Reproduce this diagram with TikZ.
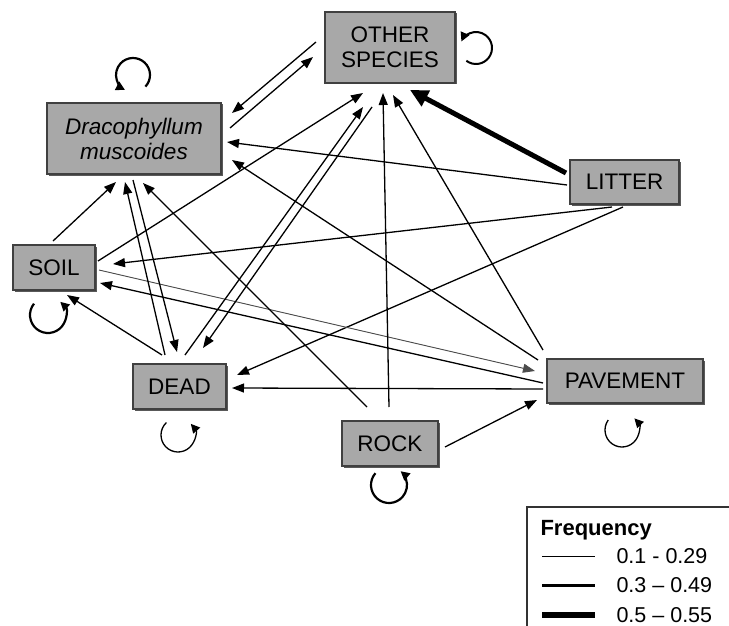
\documentclass[tikz,border=0pt]{standalone}
\usepackage{fontspec}
\setmainfont{Liberation Sans}
\usetikzlibrary{arrows.meta,calc,shadows}
\definecolor{boxfill}{RGB}{168,168,168}
\tikzset{
  state/.style={draw=black!75, line width=1.2pt, fill=boxfill, align=center, inner sep=0pt,
    font=\fontsize{22.5}{25}\selectfont,
    drop shadow={shadow xshift=1.5pt, shadow yshift=-1.5pt, fill=black!65, opacity=1}},
  link/.style={line width=1.3pt, -{Triangle[length=12pt,width=9pt]}},
  weak/.style={link, line width=0.9pt, draw=black!70, fill=black!70},
  strong/.style={line width=5pt, -{Triangle[length=18pt,width=17pt]}},
  selfloop/.style={line width=2.2pt, -{Triangle[length=9pt,width=9pt]}},
  thinloop/.style={selfloop, line width=1.3pt}
}
\begin{document}
\begin{tikzpicture}[x=1pt, y=-1pt]
\useasboundingbox (0,0) rectangle (729,626);
% states
\node[state, minimum width=130pt, minimum height=71pt] (other) at (390,47.5) {OTHER\\SPECIES};
\node[state, minimum width=174pt, minimum height=71pt, font=\fontsize{22.5}{25}\selectfont\itshape] (drac) at (134,138.5) {Dracophyllum\\muscoides};
\node[state, minimum width=109pt, minimum height=44pt] (litter) at (624.5,182) {LITTER};
\node[state, minimum width=82pt, minimum height=45pt] (soil) at (54,267.5) {SOIL};
\node[state, minimum width=93pt, minimum height=45pt] (dead) at (179.5,386.5) {DEAD};
\node[state, minimum width=156pt, minimum height=44pt] (pave) at (625,381) {PAVEMENT};
\node[state, minimum width=96pt, minimum height=45pt] (rock) at (390,443.5) {ROCK};
% transitions
\draw[link] ($(other.center)+(-74,-5.5)$) -- ($(drac.center)+(98,-25.5)$);
\draw[link] ($(drac.center)+(96,-10.5)$) -- ($(other.center)+(-77,9.5)$);
\draw[link] ($(litter.center)+(-57.5,3)$) -- ($(drac.center)+(93,3.5)$);
\draw[strong] ($(litter.center)+(-58.5,-9)$) -- ($(other.center)+(20,42.5)$);
\draw[link] ($(litter.center)+(-12.5,25)$) -- ($(soil.center)+(59,-3.5)$);
\draw[link] ($(litter.center)+(-1.5,25)$) -- ($(dead.center)+(57.5,-11.5)$);
\draw[link] ($(soil.center)+(-1,-26.5)$) -- ($(drac.center)+(-18,43.5)$);
\draw[link] ($(soil.center)+(44,-6.5)$) -- ($(other.center)+(-27,45.5)$);
\draw[weak] ($(soil.center)+(45,2.5)$) -- ($(pave.center)+(-90,-10)$);
\draw[link] ($(pave.center)+(-82,2)$) -- ($(soil.center)+(46,15.5)$);
\draw[link] ($(dead.center)+(-17.5,-31.5)$) -- ($(soil.center)+(13,27.5)$);
\draw[link] ($(dead.center)+(-14.5,-31.5)$) -- ($(drac.center)+(-9,43.5)$);
\draw[link] ($(drac.center)+(-1,41.5)$) -- ($(dead.center)+(-2.5,-34.5)$);
\draw[link] ($(dead.center)+(5.5,-31.5)$) -- ($(other.center)+(-27,59.5)$);
\draw[link] ($(other.center)+(-18,59.5)$) -- ($(dead.center)+(23.5,-38.5)$);
\draw[link] ($(rock.center)+(-23,-36.5)$) -- ($(drac.center)+(9,44.5)$);
\draw[link] ($(rock.center)+(-1,-36.5)$) -- ($(other.center)+(-7,45.5)$);
\draw[link] ($(pave.center)+(-82,-31)$) -- ($(other.center)+(3,47.5)$);
\draw[link] ($(pave.center)+(-87,-21)$) -- ($(drac.center)+(98,21.5)$);
\draw[link] ($(pave.center)+(-82,8)$) -- ($(dead.center)+(52.5,1.5)$);
\draw[link] ($(rock.center)+(55,3.5)$) -- ($(pave.center)+(-88,19)$);
% self loops
\draw[selfloop] ($(drac.center)+(-1,-63.5)+(-43:17pt)$) arc[start angle=-43, end angle=242, radius=17pt];
\draw[selfloop, line width=2pt] ($(other.center)+(86,0.5)+(233:16pt)$) arc[start angle=233, end angle=516, radius=16pt];
\draw[selfloop] ($(soil.center)+(-6,47.5)+(141:18pt)$) arc[start angle=141, end angle=407, radius=18pt];
\draw[thinloop] ($(dead.center)+(-1.5,48.5)+(133:17pt)$) arc[start angle=133, end angle=401, radius=17pt];
\draw[selfloop] ($(rock.center)+(-1,41.5)+(139:18pt)$) arc[start angle=139, end angle=410, radius=18pt];
\draw[thinloop] ($(pave.center)+(-3,49)+(144:17pt)$) arc[start angle=144, end angle=403, radius=17pt];
% legend
\draw[line width=1.8pt, draw=black!80] (527,507) rectangle (740,640);
\node[anchor=west, font=\fontsize{22}{24}\selectfont\bfseries] (freq) at (537,530) {Frequency};
\draw[line width=0.9pt] (542,556) -- (595,556);
\draw[line width=3pt] (542,585) -- (595,585);
\draw[line width=6pt] (542,615) -- (595,615);
\node[anchor=west, font=\fontsize{21.5}{25}\selectfont] (lowf) at (613,556) {0.1 - 0.29};
\node[anchor=west, font=\fontsize{21.5}{25}\selectfont] (midf) at (613,585) {0.3 – 0.49};
\node[anchor=west, font=\fontsize{21.5}{25}\selectfont] (highf) at (613,615) {0.5 – 0.55};
\end{tikzpicture}
\end{document}
